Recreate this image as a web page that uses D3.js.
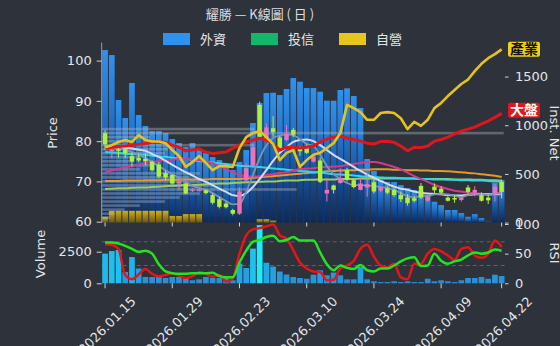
<!DOCTYPE html>
<html>
<head>
<meta charset="utf-8">
<script src="https://cdn.jsdelivr.net/npm/d3@7"></script>
<style>
  body { margin: 0; background: #2d323b; }
  svg { display: block; font-family: "DejaVu Sans", sans-serif; }
  .cjk { font-family: "Noto Sans CJK TC", "Noto Sans CJK SC", sans-serif; }
</style>
</head>
<body>
<svg id="chart"></svg>
<script>
const width = 560;
const height = 346;

const dates = [
  "2026.01.15","2026.01.16","2026.01.19","2026.01.20","2026.01.21","2026.01.22","2026.01.23","2026.01.26","2026.01.27","2026.01.28",
  "2026.01.29","2026.01.30","2026.02.02","2026.02.03","2026.02.04","2026.02.05","2026.02.06","2026.02.09","2026.02.10","2026.02.11",
  "2026.02.23","2026.02.24","2026.02.25","2026.02.26","2026.03.02","2026.03.03","2026.03.04","2026.03.05","2026.03.06","2026.03.09",
  "2026.03.10","2026.03.11","2026.03.12","2026.03.13","2026.03.16","2026.03.17","2026.03.18","2026.03.19","2026.03.20","2026.03.23",
  "2026.03.24","2026.03.25","2026.03.26","2026.03.27","2026.03.30","2026.03.31","2026.04.01","2026.04.02","2026.04.07","2026.04.08",
  "2026.04.09","2026.04.10","2026.04.13","2026.04.14","2026.04.15","2026.04.16","2026.04.17","2026.04.20","2026.04.21","2026.04.22"
];
const tickIdx = [0, 10, 20, 30, 40, 50, 59];

// OHLC
const open = [82,77.5,78,78,76.3,75.8,75.6,74.9,74.2,72.1, 71.6,69.5,69.5,67.8,67.8,67.8,66.6,65.6,64.5,62.9,
  62,70.3,74,89,80.3,83.2,80.9,80.3,82.8,78.3, 78.8,74.9,75.2,67,69,69.6,72.8,70.3,67.9,68.5,
  69.8,67.7,68.3,67.9,66.6,66,65.8,68.9,65.2,68.7, 68.2,66,65.9,65.4,68.5,67.2,66.6,66,67,69.9];
const high = [82.7,78.5,78.3,78.8,77.2,77,77,75.2,74.8,72.7, 71.8,70.3,69.7,68.3,68.3,68,67,66.2,64.9,63.2,
  68.5,74.5,79.5,89.8,84.4,86.2,81.3,84,83.3,78.8, 79.2,76.5,75.9,70.8,69.2,73.2,73.4,70.6,70.9,71.9,
  70.5,68.9,68.8,68.3,67.5,66.8,66.3,69.6,66.7,69.5, 68.8,66.3,66.6,66.4,69.1,68.8,67.3,66.6,69.4,70.5];
const low = [77.8,75.8,76,75.8,73.7,74.8,74,72.5,70.8,70.2, 69.2,67.8,66.8,67.4,67.5,66.8,64.3,63.3,63.3,61.6,
  61.7,69.8,73.8,80.8,79.9,81.1,77.5,80,81,76.4, 76.8,74.7,69.6,65,67,69.5,70,68.3,67.8,66.2,
  67,67.3,66.8,66.2,64.9,64,64.8,65.6,64.9,67, 66.8,65,64.7,65,66.8,66.3,65,64.4,65,65.8];
const close = [79.2,77.8,77.6,77,74.9,75.2,75,72.8,71.2,71, 69.5,70,67,68,68,67.1,64.7,63.7,63.6,62,
  67.5,73.3,78.5,81.1,83.4,82.3,77.8,81.8,81.6,77.5, 77.1,76.2,69.9,67.9,67.9,70.8,70.4,68.6,69.5,69.3,
  67.5,68.5,67.2,66.6,65.6,64.6,65.2,66,66.2,67.8, 67.2,65.2,65.5,66,67.4,67.9,65.2,65.3,68.7,67.4];

// institutional (Inst. Net axis)
const foreign = [1773,1721,1259,1074,1434,1105,992,940,940,920, 858,817,776,817,745,714,673,642,591,540,
  622,745,1023,1228,1331,1334,1310,1372,1485,1447, 1382,1382,1344,1252,1252,1362,1379,1300,1177,653,
  529,437,419,416,385,355,334,317,283,214, 180,129,129,98,60,87,46,8,406,437];
const trust = [0,0,0,0,0,0,0,0,0,0, 0,0,0,0,0,0,0,0,0,0, 0,0,0,0,0,0,0,0,0,0,
  0,0,0,0,0,0,0,0,0,0, 0,0,0,0,0,0,0,0,0,0, 0,0,0,0,0,0,0,0,0,0];
const dealer = [60,121,121,121,121,121,121,121,121,121, 67,67,87,87,87,0,0,0,0,0,
  0,0,0,35,35,20,0,0,0,0, 0,0,0,0,0,0,0,0,0,0, 0,0,0,0,0,0,0,0,0,0, 0,0,0,0,0,0,0,0,0,0];

// moving averages
const ma5 = [79.0,78.5,78.3,77.8,77.3,76.6,75.8,74.8,73.8,72.8, 71.8,70.9,69.9,68.9,68.4,67.9,67.1,66.1,65.1,64.3,
  64.4,67.4,71.6,75.8,79.0,80.8,81.4,81.7,81.5,80.5, 79.3,78.8,76.6,73.8,71.8,70.6,69.6,69.1,69.1,69.0,
  68.9,68.6,68.4,67.9,67.1,66.4,66.0,66.4,66.4,66.8, 66.9,66.8,66.4,66.1,66.6,66.9,66.8,66.6,67.0,67.1];
const ma10 = [78.5,78.5,78.4,78.3,78.2,77.9,77.6,76.8,76.1,75.1, 74.1,73.2,72.3,71.5,70.6,69.9,69.1,68.2,67.4,66.6,
  66.4,67.1,68.6,70.6,72.8,75.1,77.1,78.5,79.8,80.3, 80.4,80.0,79.0,77.8,76.6,75.6,74.6,73.6,72.6,71.7,
  70.9,70.1,69.4,68.7,68.2,67.9,67.5,67.2,67.0,66.9, 66.8,66.6,66.5,66.5,66.6,66.8,66.8,66.8,66.9,67.0];
const ma20 = [72.3,72.7,73.1,73.5,73.8,74.2,74.6,74.8,75.1,75.3, 75.4,75.6,75.6,75.4,75.3,74.9,74.5,73.8,73.1,72.3,
  71.6,71.3,71.2,71.3,71.6,71.8,72.1,72.3,72.7,73.1, 73.2,73.3,73.5,73.6,73.7,73.8,74.1,74.3,74.6,74.8,
  74.8,74.6,74.1,73.6,73.0,72.2,71.3,70.6,69.9,69.1, 68.6,68.1,67.7,67.5,67.2,67.1,66.9,66.8,66.6,66.6];
const ma60 = [77.3,77.2,77.1,76.9,76.8,76.7,76.6,76.4,76.2,76.1, 75.9,75.7,75.6,75.3,75.1,74.9,74.7,74.5,74.3,74.1,
  73.9,73.8,73.7,73.6,73.4,73.2,73.1,72.9,72.8,72.6, 72.5,72.3,72.2,72.0,71.8,71.7,71.6,71.5,71.3,71.2,
  71.1,71.0,70.9,70.9,70.8,70.7,70.7,70.6,70.6,70.5, 70.5,70.4,70.4,70.3,70.3,70.2,70.2,70.1,70.0,70.0];
const ma120 = [70.1,70.1,70.1,70.2,70.2,70.2,70.3,70.3,70.3,70.4, 70.4,70.4,70.5,70.5,70.5,70.5,70.6,70.6,70.6,70.6,
  70.6,70.7,70.9,71.0,71.2,71.3,71.5,71.6,71.8,71.9, 72.1,72.2,72.4,72.5,72.6,72.7,72.8,72.8,72.9,72.9,
  73.0,73.0,73.0,72.9,72.9,72.8,72.8,72.7,72.7,72.6, 72.6,72.5,72.4,72.3,72.1,72.0,71.8,71.6,71.4,71.1];
const ma240 = [68.1,68.2,68.3,68.3,68.4,68.5,68.5,68.6,68.7,68.8, 68.9,69.0,69.1,69.1,69.2,69.3,69.4,69.5,69.5,69.6,
  69.7,69.8,69.8,69.9,70.0,70.0,70.1,70.2,70.2,70.3, 70.4,70.4,70.5,70.5,70.5,70.6,70.6,70.6,70.7,70.7,
  70.7,70.7,70.7,70.7,70.7,70.7,70.7,70.6,70.6,70.6, 70.6,70.6,70.5,70.5,70.5,70.4,70.4,70.3,70.3,70.2];

// comparison lines (scaled to price axis)
const market = [78.3,78.4,78.7,78.8,79.0,79.2,79.4,79.7,79.8,79.7, 79.0,78.5,77.6,77.8,78.1,77.3,76.9,77.1,77.3,78.2,
  79.0,79.8,80.3,80.7,80.3,79.3,77.8,78.5,78.4,78.3, 78.5,78.8,79.8,80.5,81.0,81.2,80.8,80.4,80.0,79.5,
  79.3,79.9,80.0,79.7,78.8,77.6,78.5,78.4,78.8,80.0, 80.4,81.0,81.8,82.5,83.0,83.5,84.3,85.0,85.9,86.9];
const industry = [78.5,79.0,79.8,80.3,79.8,81.5,80.3,79.9,79.9,79.5, 77.8,76.3,73.6,74.8,76.3,74.6,72.8,73.8,73.8,73.6,
  78.3,81.0,82.0,82.5,81.0,79.3,75.3,77.1,77.8,73.6, 75.3,76.6,77.1,78.3,79.5,82.0,89.0,88.2,87.2,85.3,
  85.3,87.0,87.2,87.0,85.7,83.0,84.8,83.8,85.3,88.2, 89.5,91.2,92.7,94.2,95.3,97.4,99.2,100.6,101.6,102.8];

// volume by price
const profilePrice = [61,62,63,64,65,66,67,68,69,70,71,72,73,74,75,76,77,78,79,80,81,82,83];
const profileVol = [2,3.2,5.7,9.5,15.7,19.4,24.4,48.5,28,24.4,21.9,24.4,9.5,12,7,9.5,15.7,16.4,38,7,12,100,38];

// lower panel
const volume = [2350,2550,2630,890,2075,1170,500,500,500,420, 500,500,360,240,315,500,420,420,420,240,
  1560,1210,2745,4600,1625,1325,930,695,500,420, 360,680,1025,630,850,630,315,315,1285,315,
  160,100,100,160,100,160,100,100,360,160, 240,160,100,240,420,420,500,360,680,575];
const rsi6 = [66,65,58,14,7,15,24,16,12,14, 17,13,9,12,19,16,11,14,3,8,
  50,81,91,93,96,99,81,75,56,35, 25,20,19,5,6,25,30,38,58,65,
  45,30,27,33,10,7,33,33,50,58, 54,47,39,58,61,47,43,50,72,61];
const rsi12 = [69,69,67,63,58,53,55,50,32,20, 17,16,16,17,17,17,18,12,10,10,
  35,55,70,73,78,80,71,73,78,72, 72,72,52,32,22,30,26,24,31,22,
  20,25,25,30,37,42,44,29,30,50, 38,33,37,40,47,52,50,52,57,55];

const legendItems = [
  { name: "外資", color: "#2e92f0" },
  { name: "投信", color: "#12b76a" },
  { name: "自營", color: "#e6c51c" },
];

// scales
const x = d3.scaleBand().domain(d3.range(dates.length)).range([101.7, 505])
  .paddingInner(0.15).paddingOuter(0.075);
const cx = (i) => x(i) + x.bandwidth() / 2;
const yP = d3.scaleLinear().domain([59.8, 104.5]).range([222.5, 42.5]);
const yN = d3.scaleLinear().domain([0, 1850]).range([222.6, 42.5]);
const yV = d3.scaleLinear().domain([0, 4690]).range([283.3, 224]);
const yR = d3.scaleLinear().domain([0, 100]).range([283.3, 224]);
const xProf = d3.scaleLinear().domain([0, 100]).range([0, 402]);
const volColor = d3.scaleLinear().domain([0, 1500, 4600])
  .range(["#3186cd", "#20a6e6", "#19eeff"]).clamp(true);
const fmt = d3.format("d");

const svg = d3.select("#chart").attr("width", width).attr("height", height);
svg.append("rect").attr("width", width).attr("height", height).attr("fill", "#2d323b");

const defs = svg.append("defs");
const gb = defs.append("linearGradient").attr("id", "gBlue").attr("x1", 0).attr("y1", 0).attr("x2", 0).attr("y2", 1);
gb.append("stop").attr("offset", 0).attr("stop-color", "#3191ec");
gb.append("stop").attr("offset", 0.35).attr("stop-color", "#2274cc");
gb.append("stop").attr("offset", 0.7).attr("stop-color", "#154a92");
gb.append("stop").attr("offset", 1).attr("stop-color", "#0c2a58");
const gy = defs.append("linearGradient").attr("id", "gYellow").attr("x1", 0).attr("y1", 0).attr("x2", 0).attr("y2", 1);
gy.append("stop").attr("offset", 0).attr("stop-color", "#d2ae16");
gy.append("stop").attr("offset", 1).attr("stop-color", "#6b5610");

function styleAxis(g) {
  g.select(".domain").remove();
  g.attr("font-size", 13).attr("font-family", "DejaVu Sans");
  g.selectAll("line").attr("stroke", "#cfd3da");
  g.selectAll("text").attr("fill", "#e4e6ea");
}

// institutional bars
svg.append("g").selectAll("rect").data(foreign).enter().append("rect")
  .attr("x", (d, i) => x(i)).attr("width", x.bandwidth())
  .attr("y", (d) => yN(d)).attr("height", (d) => yN(0) - yN(d))
  .attr("fill", "url(#gBlue)");
svg.append("g").selectAll("rect").data(trust).enter().append("rect")
  .attr("x", (d, i) => x(i)).attr("width", x.bandwidth())
  .attr("y", (d) => yN(d)).attr("height", (d) => yN(0) - yN(d))
  .attr("fill", "#12b76a");
svg.append("g").selectAll("rect").data(dealer).enter().append("rect")
  .attr("x", (d, i) => x(i)).attr("width", x.bandwidth())
  .attr("y", (d) => yN(d)).attr("height", (d) => yN(0) - yN(d))
  .attr("fill", "url(#gYellow)");

// volume profile
svg.append("g").selectAll("rect").data(profileVol).enter().append("rect")
  .attr("x", 101.7).attr("y", (d, i) => yP(profilePrice[i]) - 1.3)
  .attr("width", (d) => xProf(d)).attr("height", 2.6)
  .attr("fill", "#b8bec8").attr("opacity", 0.38);

// moving averages
const line = (arr, curve) => d3.line().x((d, i) => cx(i)).y((d) => yP(d)).curve(curve)(arr);
const maLines = [
  { data: ma240, color: "#9ccc5a", w: 2 },
  { data: ma120, color: "#e39a2d", w: 2 },
  { data: ma60, color: "#2fd6e8", w: 2 },
  { data: ma20, color: "#d2398f", w: 2 },
  { data: ma10, color: "#d3d9f0", w: 2 },
  { data: ma5, color: "#7f93b0", w: 1.8 },
];
maLines.forEach((m) => {
  svg.append("path").attr("d", line(m.data, d3.curveMonotoneX))
    .attr("fill", "none").attr("stroke", m.color).attr("stroke-width", m.w);
});

// candles
const up = "#ef70bb", down = "#b0f03a";
const candles = svg.append("g");
candles.selectAll("line").data(dates).enter().append("line")
  .attr("x1", (d, i) => cx(i)).attr("x2", (d, i) => cx(i))
  .attr("y1", (d, i) => yP(high[i])).attr("y2", (d, i) => yP(low[i]))
  .attr("stroke", (d, i) => (close[i] >= open[i] ? up : down)).attr("stroke-width", 1);
candles.selectAll("rect").data(dates).enter().append("rect")
  .attr("x", (d, i) => cx(i) - 2.2).attr("width", 4.4)
  .attr("y", (d, i) => yP(Math.max(open[i], close[i])))
  .attr("height", (d, i) => Math.max(1.2, Math.abs(yP(open[i]) - yP(close[i]))))
  .attr("fill", (d, i) => (close[i] >= open[i] ? up : down));

// comparison lines
svg.append("path").attr("d", line(market, d3.curveLinear))
  .attr("fill", "none").attr("stroke", "#e0161c").attr("stroke-width", 3).attr("stroke-linejoin", "round");
svg.append("path").attr("d", line(industry, d3.curveLinear))
  .attr("fill", "none").attr("stroke", "#e6c21d").attr("stroke-width", 2.6).attr("stroke-linejoin", "round");

const tags = [
  { text: "產業", y: yP(industry[industry.length - 1]), bg: "#f0d01c", fg: "#111" },
  { text: "大盤", y: yP(market[market.length - 1]) - 3, bg: "#e3141c", fg: "#fff" },
];
tags.forEach((t) => {
  const g = svg.append("g").attr("transform", `translate(508, ${t.y})`);
  g.append("rect").attr("x", 0).attr("y", -7.5).attr("width", 32).attr("height", 15)
    .attr("rx", 2).attr("fill", t.bg);
  g.append("text").attr("class", "cjk").attr("x", 16).attr("y", 0).attr("dy", "0.36em")
    .attr("text-anchor", "middle").attr("font-size", 14).attr("font-weight", "bold")
    .attr("fill", t.fg).text(t.text);
});

// main panel axes
svg.append("line").attr("x1", 101.7).attr("x2", 101.7).attr("y1", 42.5).attr("y2", 222.5)
  .attr("stroke", "#9a9ea6");
svg.append("g").attr("transform", "translate(101.7,0)")
  .call(d3.axisLeft(yP).tickValues([60, 70, 80, 90, 100]).tickSize(5).tickPadding(5)).call(styleAxis);
svg.append("g").attr("transform", "translate(505,0)")
  .call(d3.axisRight(yN).tickValues([0, 500, 1000, 1500]).tickFormat(fmt).tickSize(3.5).tickPadding(6.5))
  .call(styleAxis);
svg.append("g").attr("transform", "translate(0,222.5)")
  .call(d3.axisBottom(x).tickValues(tickIdx).tickSize(4).tickFormat("")).call(styleAxis);

// lower panel
svg.append("g").selectAll("line").data([70, 30]).enter().append("line")
  .attr("x1", 101.7).attr("x2", 505).attr("y1", (d) => yR(d)).attr("y2", (d) => yR(d))
  .attr("stroke", "#5d636e").attr("stroke-dasharray", "4,3");
svg.append("g").selectAll("rect").data(volume).enter().append("rect")
  .attr("x", (d, i) => x(i)).attr("width", x.bandwidth())
  .attr("y", (d) => yV(d)).attr("height", (d) => yV(0) - yV(d))
  .attr("fill", (d) => volColor(d));
const rsiLine = d3.line().x((d, i) => cx(i)).y((d) => yR(d)).curve(d3.curveMonotoneX);
svg.append("path").attr("d", rsiLine(rsi6)).attr("fill", "none")
  .attr("stroke", "#e8141a").attr("stroke-width", 2.5);
svg.append("path").attr("d", rsiLine(rsi12)).attr("fill", "none")
  .attr("stroke", "#22e51f").attr("stroke-width", 2.5);

svg.append("g").attr("transform", "translate(101.7,0)")
  .call(d3.axisLeft(yV).tickValues([0, 2500]).tickFormat(fmt).tickSize(5).tickPadding(5)).call(styleAxis);
svg.append("g").attr("transform", "translate(505,0)")
  .call(d3.axisRight(yR).tickValues([0, 50, 100]).tickSize(3.5).tickPadding(6.5)).call(styleAxis);
const xAxis = svg.append("g").attr("transform", "translate(0,283.3)")
  .call(d3.axisBottom(x).tickValues(tickIdx).tickSize(5).tickFormat((i) => dates[i])).call(styleAxis);
xAxis.selectAll("text").attr("x", 0).attr("y", 0).attr("dy", "0.35em")
  .attr("text-anchor", "middle").attr("transform", "translate(2,42) rotate(-45)");

// titles and labels
svg.append("text").attr("class", "cjk").attr("x", 260).attr("y", 19).attr("text-anchor", "middle")
  .attr("font-size", 13).attr("fill", "#dcdde0").text("耀勝 — K線圖 ( 日 )");

const legend = svg.append("g").attr("transform", "translate(163,33)");
legendItems.forEach((d, i) => {
  const g = legend.append("g").attr("transform", `translate(${i * 88},0)`);
  g.append("rect").attr("width", 27).attr("height", 12).attr("fill", d.color);
  g.append("text").attr("class", "cjk").attr("x", 37).attr("y", 6).attr("dy", "0.36em")
    .attr("font-size", 13).attr("fill", "#e4e6ea").text(d.name);
});

const axisLabel = (t, tx, ty, rot) =>
  svg.append("text").attr("transform", `translate(${tx},${ty}) rotate(${rot})`)
    .attr("text-anchor", "middle").attr("font-size", 13).attr("fill", "#e4e6ea").text(t);
axisLabel("Price", 57, 133, -90);
axisLabel("Volume", 45, 254, -90);
axisLabel("Inst. Net", 550, 133, 90);
axisLabel("RSI", 550, 253, 90);
</script>
</body>
</html>
